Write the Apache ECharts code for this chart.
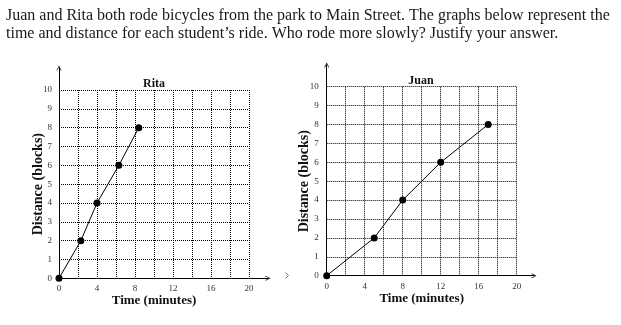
<!DOCTYPE html>
<html>
<head>
<meta charset="utf-8">
<script src="https://cdn.jsdelivr.net/npm/echarts@6/dist/echarts.min.js"></script>
<style>
  html, body { margin: 0; padding: 0; background: #fff; }
  #chart { width: 621px; height: 325px; }
</style>
</head>
<body>
<div id="chart"></div>
<script>
// Ride data: time in minutes, distance in blocks
const ritaTime = [0, 2.3, 4, 6.3, 8.4];
const ritaDistance = [0, 2, 4, 6, 8];
const juanTime = [0, 5, 8, 12, 17];
const juanDistance = [0, 2, 4, 6, 8];

const timeTicks = { min: 0, max: 20, interval: 4 };
const distanceTicks = { min: 0, max: 10, interval: 1 };

const promptLines = [
  'Juan and Rita both rode bicycles from the park to Main Street. The graphs below represent the',
  'time and distance for each student\u2019s ride. Who rode more slowly? Justify your answer.'
];

const serif = '"Liberation Serif", "Times New Roman", serif';
const arrowPath = 'path://M0,10 L5,0 L10,10 L8.6,10 L5,2.8 L1.4,10 Z';

const chart = echarts.init(document.getElementById('chart'));

// Dotted square grid with plain axis labels
function plotAxes(gridIndex, yLabelMargin, yNameGap) {
  const x = {
    type: 'value', gridIndex, min: timeTicks.min, max: timeTicks.max, interval: timeTicks.interval,
    name: 'Time (minutes)', nameLocation: 'middle', nameGap: 16, nameMoveOverlap: false,
    nameTextStyle: { fontFamily: serif, fontWeight: 'bold', fontSize: 13, color: '#111' },
    axisLine: { show: false }, axisTick: { show: false },
    axisLabel: { fontFamily: serif, fontSize: 9, color: '#333', margin: 6 },
    splitLine: { show: false }
  };
  const y = {
    type: 'value', gridIndex, min: distanceTicks.min, max: distanceTicks.max, interval: distanceTicks.interval,
    name: 'Distance (blocks)', nameLocation: 'middle', nameGap: yNameGap, nameRotate: 90, nameMoveOverlap: false,
    nameTextStyle: { fontFamily: serif, fontWeight: 'bold', fontSize: 14, color: '#111' },
    axisLine: { show: false }, axisTick: { show: false },
    axisLabel: { fontFamily: serif, fontSize: 9, color: '#333', margin: yLabelMargin },
    splitLine: { show: true, lineStyle: { color: '#000', width: 1, type: [1, 1] } }
  };
  return { x, y };
}

// Vertical grid lines every 2 minutes (a hidden helper axis on the same grid)
function minorTimeAxis(gridIndex) {
  return {
    type: 'value', gridIndex, min: 0, max: 20, interval: 2,
    axisLine: { show: false }, axisTick: { show: false }, axisLabel: { show: false },
    splitLine: { show: true, lineStyle: { color: '#000', width: 1, type: [1, 1] } }
  };
}

// Solid axes with open arrowheads, running past the grid
function arrowAxes(gridIndex) {
  const line = { show: true, onZero: false, symbol: ['none', arrowPath], symbolSize: [6, 5],
                 lineStyle: { color: '#000', width: 1 } };
  return {
    x: { type: 'value', gridIndex, min: 0, max: 1, axisLine: line, axisTick: { show: false },
         axisLabel: { show: false }, splitLine: { show: false } },
    y: { type: 'value', gridIndex, min: 0, max: 1, axisLine: line, axisTick: { show: false },
         axisLabel: { show: false }, splitLine: { show: false } }
  };
}

const ritaAxes = plotAxes(0, 7, 14);
const juanAxes = plotAxes(1, 8, 15);
const ritaArrows = arrowAxes(2);
const juanArrows = arrowAxes(3);

function rideSeries(name, times, distances, xIdx, yIdx) {
  return {
    name, type: 'line', xAxisIndex: xIdx, yAxisIndex: yIdx,
    data: times.map((t, i) => [t, distances[i]]),
    symbol: 'circle', symbolSize: 7,
    itemStyle: { color: '#000' },
    lineStyle: { color: '#000', width: 1 },
    animation: false, z: 5
  };
}

chart.setOption({
  backgroundColor: '#fff',
  animation: false,
  title: {
    text: promptLines.join('\n'), left: 1, top: 2,
    textStyle: { fontFamily: serif, fontSize: 16, fontWeight: 'normal', color: '#1a1a1a', lineHeight: 18 }
  },
  grid: [
    { left: 59, right: 372, top: 90, bottom: 46.7 },
    { left: 326.7, right: 104.3, top: 86.7, bottom: 49.3 },
    { left: 59, right: 353, top: 68, bottom: 46.7 },
    { left: 326.7, right: 87, top: 65, bottom: 49.3 }
  ],
  xAxis: [ritaAxes.x, juanAxes.x, ritaArrows.x, juanArrows.x, minorTimeAxis(0), minorTimeAxis(1)],
  yAxis: [ritaAxes.y, juanAxes.y, ritaArrows.y, juanArrows.y],
  series: [
    rideSeries('Rita', ritaTime, ritaDistance, 0, 0),
    rideSeries('Juan', juanTime, juanDistance, 1, 1)
  ],
  graphic: [
    { type: 'text', x: 154, y: 84, style: { text: 'Rita', x: 0, y: 0, align: 'center', verticalAlign: 'middle',
      font: 'bold 12px ' + serif, fill: '#111' } },
    { type: 'text', x: 421, y: 81, style: { text: 'Juan', x: 0, y: 0, align: 'center', verticalAlign: 'middle',
      font: 'bold 12px ' + serif, fill: '#111' } },
    { type: 'polyline', shape: { points: [[285.5, 272.5], [288.5, 275.5], [285.5, 278.5]] },
      style: { stroke: '#777', lineWidth: 1, fill: 'none' } }
  ]
});
</script>
</body>
</html>
